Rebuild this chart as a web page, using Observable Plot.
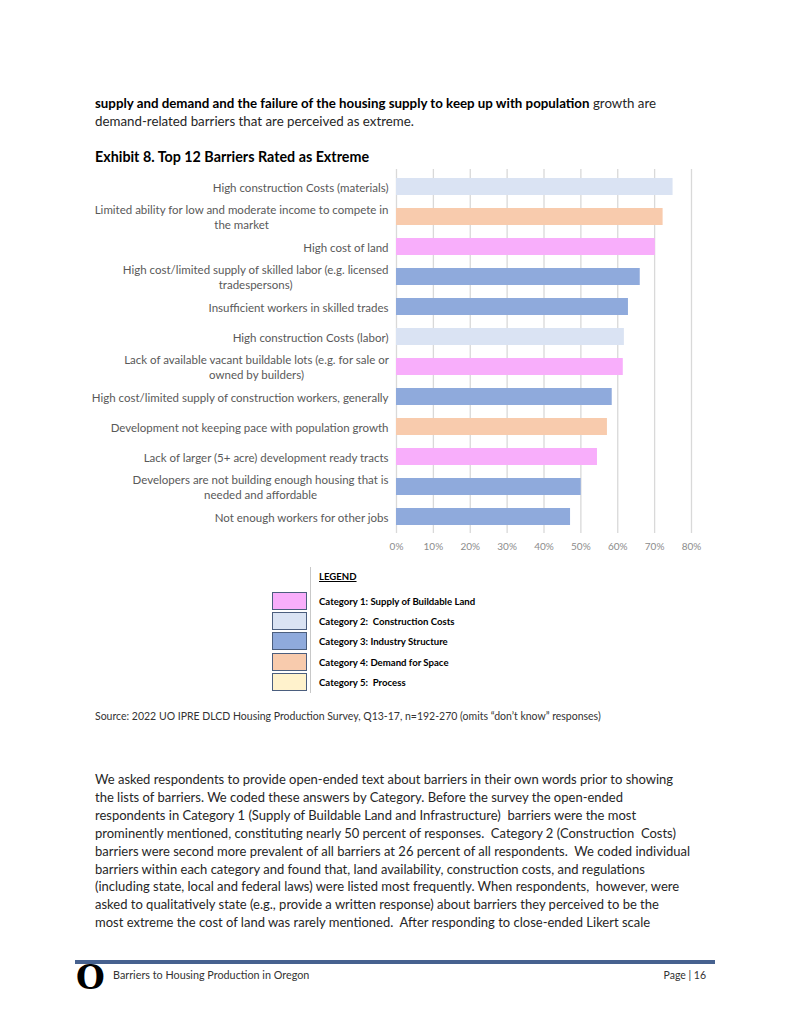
<!DOCTYPE html>
<html><head><meta charset="utf-8">
<script src="https://cdn.jsdelivr.net/npm/d3@7"></script>
<script src="https://cdn.jsdelivr.net/npm/@observablehq/plot@0.6"></script>
<style>
body{margin:0;background:#fff;}
#page{position:relative;width:800px;height:1035px;overflow:hidden;font-family:Lato,sans-serif;background:#fff;}
.ln{position:absolute;left:95px;white-space:nowrap;height:18px;line-height:18px;font-size:13px;color:#262626;}
#title{position:absolute;left:95px;top:148px;line-height:18px;font-size:14.3px;font-weight:bold;color:#000;white-space:nowrap;}
#chart{position:absolute;left:0;top:159px;}
#legendLine{position:absolute;left:310px;top:567px;width:1px;height:126px;background:#c8c8c8;}
.lgt{position:absolute;left:319px;font-size:9.6px;font-weight:bold;color:#000;white-space:nowrap;line-height:12px;}
.lgb{position:absolute;left:272px;width:33px;height:16px;border:1.5px solid #4b5e7e;}
#source{position:absolute;left:95px;top:709px;font-size:10.5px;color:#333;white-space:nowrap;line-height:14px;}
#footBar{position:absolute;left:75px;top:960px;width:640px;height:4px;background:#46618f;}
#logo{position:absolute;left:76px;top:958px;font-family:"DejaVu Serif",serif;font-weight:bold;font-size:33px;line-height:40px;color:#000;}
#footL{position:absolute;left:113px;top:968px;font-size:10.8px;color:#333;white-space:nowrap;line-height:14px;}
#footR{position:absolute;right:94px;top:968px;font-size:10.5px;color:#333;white-space:nowrap;line-height:14px;}
</style></head><body><div id="page">
<div class="ln" style="top:94px;font-size:13.3px;"><span style="font-weight:bold;color:#000;">supply and demand and the failure of the housing supply to keep up with population</span> growth are</div>
<div class="ln" style="top:112px;font-size:13.3px;">demand-related barriers that are perceived as extreme.</div>
<div id="title">Exhibit 8. Top 12 Barriers Rated as Extreme</div>
<div id="chart"></div>
<div id="legend"></div>
<div id="legendLine"></div>
<div id="source">Source: 2022 UO IPRE DLCD Housing Production Survey, Q13-17, n=192-270 (omits “don’t know” responses)</div>
<div id="body"></div>
<div id="footBar"></div>
<div id="logo">O</div>
<div id="footL">Barriers to Housing Production in Oregon</div>
<div id="footR">Page | 16</div>
</div>
<script>
// ---- data ----
const barriers = [
  "High construction Costs (materials)",
  "Limited ability for low and moderate income to compete in\nthe market",
  "High cost of land",
  "High cost/limited supply of skilled labor (e.g. licensed\ntradespersons)",
  "Insufficient workers in skilled trades",
  "High construction Costs (labor)",
  "Lack of available vacant buildable lots (e.g. for sale or\nowned by builders)",
  "High cost/limited supply of construction workers, generally",
  "Development not keeping pace with population growth",
  "Lack of larger (5+ acre) development ready tracts",
  "Developers are not building enough housing that is\nneeded and affordable",
  "Not enough workers for other jobs"
];
const shares = [0.750, 0.723, 0.702, 0.661, 0.629, 0.618, 0.615, 0.585, 0.572, 0.545, 0.501, 0.472];
const barrierCategory = [2, 4, 1, 3, 3, 2, 1, 3, 4, 1, 3, 3];
const categoryIds = [1, 2, 3, 4, 5];
const categoryNames = [
  "Category 1: Supply of Buildable Land",
  "Category 2:\u00a0 Construction Costs",
  "Category 3: Industry Structure",
  "Category 4: Demand for Space",
  "Category 5:\u00a0 Process"
];
const categoryColors = ["#f8aefb", "#dae3f3", "#8faadc", "#f8cbad", "#fff2cc"];
const xTicks = [0, 0.1, 0.2, 0.3, 0.4, 0.5, 0.6, 0.7, 0.8];
const bodyLines = [
  "We asked respondents to provide open-ended text about barriers in their own words prior to showing",
  "the lists of barriers. We coded these answers by Category. Before the survey the open-ended",
  "respondents in Category 1 (Supply of Buildable Land and Infrastructure)  barriers were the most",
  "prominently mentioned, constituting nearly 50 percent of responses.  Category 2 (Construction  Costs)",
  "barriers were second more prevalent of all barriers at 26 percent of all respondents.  We coded individual",
  "barriers within each category and found that, land availability, construction costs, and regulations",
  "(including state, local and federal laws) were listed most frequently. When respondents,  however, were",
  "asked to qualitatively state (e.g., provide a written response) about barriers they perceived to be the",
  "most extreme the cost of land was rarely mentioned.  After responding to close-ended Likert scale"
];

// ---- chart ----
const data = barriers.map((b, i) => ({barrier: b, share: shares[i], category: barrierCategory[i]}));
const chart = Plot.plot({
  width: 800, height: 396,
  marginTop: 10, marginBottom: 22, marginLeft: 396, marginRight: 109,
  style: {fontFamily: "Lato, sans-serif", background: "transparent", overflow: "visible"},
  x: {domain: [0, 0.8]},
  y: {domain: barriers, paddingInner: 0.45, paddingOuter: 0.225},
  color: {domain: categoryIds, range: categoryColors},
  marks: [
    Plot.gridX(xTicks, {stroke: "#d9d9d9", strokeOpacity: 1, strokeWidth: 1.3}),
    Plot.barX(data, {x: "share", y: "barrier", fill: "category"}),
    Plot.axisX(xTicks, {tickSize: 0, tickPadding: 9, fontSize: 10, color: "#8c8c8c", tickFormat: d3.format(".0%"), label: null}),
    Plot.axisY({tickSize: 0, tickPadding: 8, fontSize: 11.5, color: "#595959", label: null, lineHeight: 1.3})
  ]
});
document.getElementById("chart").appendChild(chart);
// center multi-line labels within their own block (as in the original)
chart.querySelectorAll('g[aria-label="y-axis tick label"] text').forEach(t => {
  const spans = t.querySelectorAll("tspan");
  if (spans.length > 1) {
    const bb = t.getBBox();
    t.setAttribute("text-anchor", "middle");
    spans.forEach(s => s.setAttribute("x", bb.x + bb.width / 2));
  }
});

// ---- legend ----
const lg = document.getElementById("legend");
const hdr = document.createElement("div");
hdr.className = "lgt"; hdr.style.top = "571px"; hdr.style.textDecoration = "underline";
hdr.textContent = "LEGEND"; lg.appendChild(hdr);
const rowTops = [592, 612, 632, 653, 673];
categoryNames.forEach((n, i) => {
  const b = document.createElement("div");
  b.className = "lgb"; b.style.top = rowTops[i] + "px"; b.style.background = categoryColors[i];
  lg.appendChild(b);
  const t = document.createElement("div");
  t.className = "lgt"; t.style.top = (rowTops[i] + 4) + "px"; t.textContent = n;
  lg.appendChild(t);
});

// ---- body text ----
const body = document.getElementById("body");
bodyLines.forEach((s, i) => {
  const d = document.createElement("div");
  d.className = "ln"; d.style.top = (770 + i * 17.9) + "px"; d.textContent = s; d.style.whiteSpace = "pre";
  body.appendChild(d);
});
</script>
</body></html>
